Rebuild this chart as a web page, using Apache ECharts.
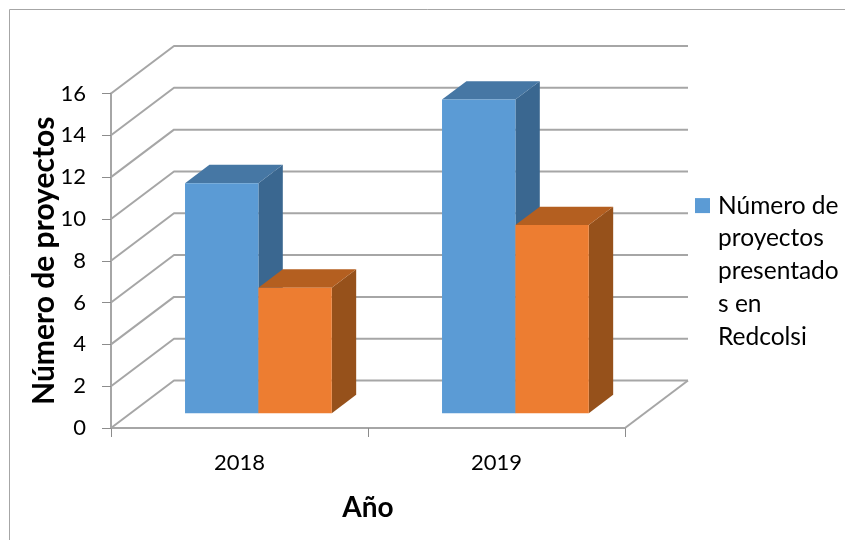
<!DOCTYPE html>
<html>
<head>
<meta charset="utf-8">
<style>html,body{margin:0;padding:0;background:#fff}#c{width:845px;height:540px}</style>
<script src="https://cdn.jsdelivr.net/npm/echarts@6/dist/echarts.min.js"></script>
</head>
<body>
<div id="c"></div>
<script>
const categories = ['2018', '2019'];
const tickValues = [0, 2, 4, 6, 8, 10, 12, 14, 16];
const presentedValues = [11, 15];
const secondValues = [6, 9];
const legendLines = ['Número de', 'proyectos', 'presentado', 's en', 'Redcolsi'];
const seriesName = 'Número de proyectos presentados en Redcolsi';

const FONT = 'Lato';
const WALL = { dx: 63, dy: -47.5 };
const BAR_BASE = { dx: 18.9, dy: -14.8 };
const BAR_DEPTH = { dx: 24.4, dy: -18.4 };
const BAR_FRAC = 0.2855;
const GRID_COLOR = '#a6a6a6';

function wallItem(params, api) {
  const cs = params.coordSys;
  const v = api.value(1);
  const y = api.coord([0, v])[1];
  const x0 = cs.x, x1 = cs.x + cs.width;
  const lineStyle = { stroke: GRID_COLOR, lineWidth: 2, fill: null, lineJoin: 'round' };
  const children = [{
    type: 'polyline',
    shape: { points: [[x0, y], [x0 + WALL.dx, y + WALL.dy], [x1 + WALL.dx, y + WALL.dy]] },
    style: lineStyle
  }];
  if (v === 0) {
    children.push({
      type: 'line',
      shape: { x1: x1, y1: y, x2: x1 + WALL.dx, y2: y + WALL.dy },
      style: lineStyle
    });
  }
  return { type: 'group', children };
}

function barRenderer(slot, front, top, side) {
  return function (params, api) {
    const idx = api.value(0);
    const base = api.coord([idx, 0]);
    const head = api.coord([idx, api.value(1)]);
    const w = api.size([1, 0])[0] * BAR_FRAC;
    const l = base[0] + BAR_BASE.dx + slot * w;
    const r = l + w;
    const b = base[1] + BAR_BASE.dy;
    const t = head[1] + BAR_BASE.dy;
    const d = BAR_DEPTH;
    return {
      type: 'group',
      children: [
        { type: 'polygon', shape: { points: [[r, t], [r + d.dx, t + d.dy], [r + d.dx, b + d.dy], [r, b]] }, style: { fill: side } },
        { type: 'polygon', shape: { points: [[l, t], [l + d.dx, t + d.dy], [r + d.dx, t + d.dy], [r, t]] }, style: { fill: top } },
        { type: 'rect', shape: { x: l, y: t, width: w, height: b - t }, style: { fill: front } }
      ]
    };
  };
}

const chart = echarts.init(document.getElementById('c'), null, { renderer: 'canvas' });
chart.setOption({
  animation: false,
  backgroundColor: '#fff',
  textStyle: { fontFamily: FONT },
  graphic: [{
    type: 'rect', silent: true, z: -1,
    shape: { x: 9.5, y: 9.5, width: 900, height: 600 },
    style: { fill: null, stroke: '#a6a6a6', lineWidth: 1 }
  }],
  grid: { left: 111, right: 220, top: 93.5, bottom: 112 },
  xAxis: {
    type: 'category',
    data: categories,
    name: 'Año',
    nameLocation: 'middle',
    nameGap: 66,
    nameMoveOverlap: false,
    nameTextStyle: { fontFamily: FONT, fontSize: 28, fontWeight: 'bold', color: '#000' },
    axisLine: { lineStyle: { color: GRID_COLOR, width: 2 } },
    axisTick: { show: true, alignWithLabel: false, length: 9, lineStyle: { color: '#8c8c8c', width: 1 } },
    axisLabel: { fontFamily: FONT, fontSize: 22, color: '#000', margin: 24 },
    splitLine: { show: false }
  },
  yAxis: {
    type: 'value',
    min: 0,
    max: 16,
    interval: 2,
    name: 'Número de proyectos',
    nameLocation: 'middle',
    nameGap: 52,
    nameMoveOverlap: false,
    nameTextStyle: { fontFamily: FONT, fontSize: 30, fontWeight: 'bold', color: '#000' },
    axisLine: { show: true, lineStyle: { color: GRID_COLOR, width: 2 } },
    axisTick: { show: true, length: 9, lineStyle: { color: '#8c8c8c', width: 1 } },
    axisLabel: { fontFamily: FONT, fontSize: 22, color: '#000', margin: 25 },
    splitLine: { show: false }
  },
  legend: {
    data: [seriesName],
    left: 690,
    top: 53,
    orient: 'vertical',
    selectedMode: false,
    icon: 'rect',
    itemWidth: 15,
    itemHeight: 15,
    itemGap: 0,
    formatter: () => '\n\n\n\n' + legendLines.join('\n'),
    textStyle: { fontFamily: FONT, fontSize: 24.5, color: '#000', lineHeight: 32.8, padding: [0, 0, 0, 3] }
  },
  series: [
    {
      type: 'custom', name: 'Cuadrícula', silent: true, z: 1, clip: false,
      data: tickValues.map(v => [0, v]),
      encode: { x: 0, y: 1 },
      renderItem: wallItem
    },
    {
      type: 'custom', name: seriesName, z: 3, clip: false,
      itemStyle: { color: '#5B9BD5' },
      data: presentedValues.map((v, i) => [i, v]),
      encode: { x: 0, y: 1 },
      renderItem: barRenderer(-1, '#5B9BD5', '#4677A4', '#3A6790')
    },
    {
      type: 'custom', name: 'Serie 2', z: 4, clip: false,
      itemStyle: { color: '#ED7D31' },
      data: secondValues.map((v, i) => [i, v]),
      encode: { x: 0, y: 1 },
      renderItem: barRenderer(0, '#ED7D31', '#B45F20', '#96511B')
    }
  ]
});
</script>
</body>
</html>
